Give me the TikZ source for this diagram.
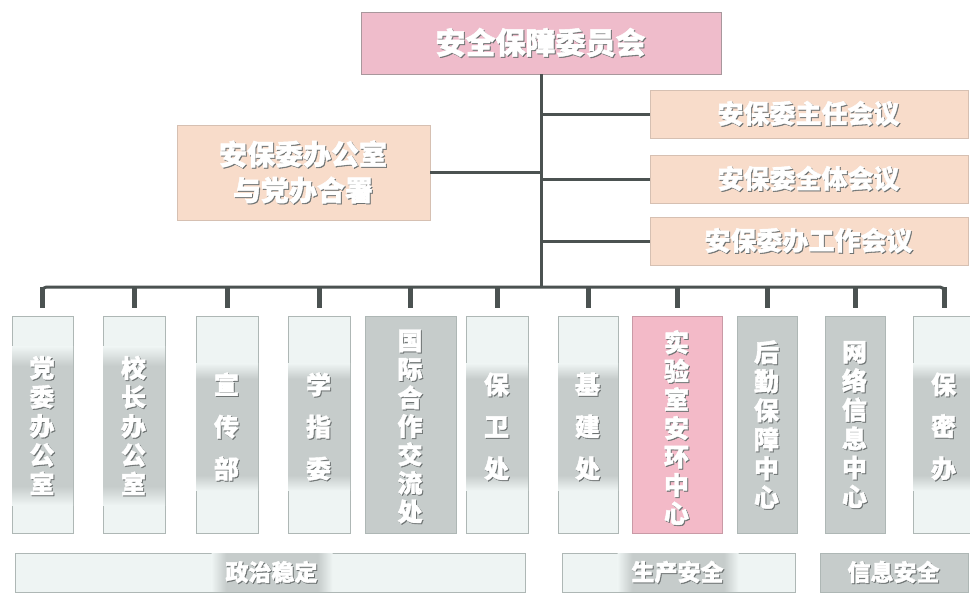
\documentclass[tikz,border=0pt]{standalone}
\usepackage{fontspec}
\newfontfamily\cjk{Noto Sans CJK SC Black}[FakeBold=1.6]
\definecolor{toppink}{HTML}{EFBCCB}
\definecolor{topline}{HTML}{A8979C}
\definecolor{peach}{HTML}{F8DCCA}
\definecolor{peachline}{HTML}{D6C0B2}
\definecolor{lightc}{HTML}{EEF4F3}
\definecolor{bandc}{HTML}{C6CCCB}
\definecolor{darkc}{HTML}{C6CCCB}
\definecolor{colline}{HTML}{AEB7B5}
\definecolor{colpink}{HTML}{F3BAC8}
\definecolor{pinkline}{HTML}{C99AA6}
\definecolor{linec}{HTML}{4B5251}
\definecolor{shadowc}{HTML}{6E7373}
\pgfdeclareverticalshading{bandsh}{100bp}{color(0bp)=(lightc); color(25bp)=(lightc); color(31bp)=(bandc); color(69bp)=(bandc); color(75bp)=(lightc); color(100bp)=(lightc)}
\pgfdeclarehorizontalshading{hbandsh}{100bp}{color(0bp)=(lightc); color(25bp)=(lightc); color(31bp)=(bandc); color(69bp)=(bandc); color(75bp)=(lightc); color(100bp)=(lightc)}
\makeatletter
\newcommand\sh[1]{\ooalign{\hspace{1pt}\raisebox{-1pt}{\color{shadowc}#1}\cr{\color{white}#1}\cr}}
\newcommand\vstack[2]{\vbox{\baselineskip=#1\lineskiplimit=-\maxdimen\lineskip=0pt\@tfor\vs@c:=#2\do{\hbox to 1.3em{\hss\sh{\vs@c}\hss}}}}
\makeatother
\tikzset{
  topbox/.style={draw=topline, fill=toppink, line width=0.6pt, minimum width=360pt, minimum height=62pt, inner sep=0pt, font=\cjk\fontsize{30}{34}\selectfont},
  meetbox/.style={draw=peachline, fill=peach, line width=0.6pt, minimum width=318pt, minimum height=48pt, inner sep=0pt, font=\cjk\fontsize{26}{30}\selectfont},
  officebox/.style={draw=peachline, fill=peach, line width=0.6pt, minimum width=253pt, minimum height=95pt, inner sep=0pt, align=center, font=\cjk\fontsize{28}{36}\selectfont},
  colbox/.style={draw=colline, fill=lightc, line width=0.6pt, minimum height=217pt, inner sep=0pt},
  darkbox/.style={colbox, fill=darkc},
  pinkbox/.style={colbox, draw=pinkline, fill=colpink},
  band/.style={shading=bandsh, inner xsep=0pt, inner ysep=10pt, font=\cjk\fontsize{25}{28}\selectfont},
  plaintext/.style={inner sep=0pt, font=\cjk\fontsize{25}{28}\selectfont},
  botbox/.style={draw=colline, fill=lightc, line width=0.6pt, minimum height=39pt, inner sep=0pt},
  hband/.style={shading=hbandsh, inner xsep=14pt, inner ysep=0pt, minimum height=38pt, font=\cjk\fontsize{23}{26}\selectfont},
  busline/.style={draw=linec, line width=3pt},
  stub/.style={draw=linec, line width=5pt},
}
\begin{document}
\begin{tikzpicture}[x=1pt,y=-1pt]
\useasboundingbox[fill=white] (0,0) rectangle (970,600);
% top
\node[topbox] (top) at (541,43) {\sh{安全保障委员会}};
\coordinate (busc) at (541,287);
% meetings
\node[meetbox] (m1) at (809,114) {\sh{安保委主任会议}};
\node[meetbox] (m2) at (809,179) {\sh{安保委全体会议}};
\node[meetbox] (m3) at (809,241) {\sh{安保委办工作会议}};
\node[officebox] (off) at (303.5,172.5) {\sh{安保委办公室}\\\sh{与党办合署}};
% columns
\node[colbox, minimum width=61pt] (c1) at (42.5,424.5) {};
\node[band, minimum width=61pt] (t1) at (42.5,426) {\vstack{29pt}{党委办公室}};
\node[colbox, minimum width=62pt] (c2) at (134,424.5) {};
\node[band, minimum width=62pt] (t2) at (134,426) {\vstack{29pt}{校长办公室}};
\node[colbox, minimum width=62pt] (c3) at (227,424.5) {};
\node[band, minimum width=62pt] (t3) at (227,427) {\vstack{42pt}{宣传部}};
\node[colbox, minimum width=62pt] (c4) at (319,424.5) {};
\node[band, minimum width=62pt] (t4) at (319,427) {\vstack{42pt}{学指委}};
\node[darkbox, minimum width=91pt] (c5) at (410.5,424.5) {};
\node[plaintext] (t5) at (410.5,427) {\vstack{28.5pt}{国际合作交流处}};
\node[colbox, minimum width=62pt] (c6) at (497,424.5) {};
\node[band, minimum width=62pt] (t6) at (497,427) {\vstack{42pt}{保卫处}};
\node[colbox, minimum width=60pt] (c7) at (588,424.5) {};
\node[band, minimum width=60pt] (t7) at (588,427) {\vstack{42pt}{基建处}};
\node[pinkbox, minimum width=90pt] (c8) at (677,424.5) {};
\node[plaintext] (t8) at (677,428) {\vstack{28.5pt}{实验室安环中心}};
\node[darkbox, minimum width=60pt] (c9) at (767,424.5) {};
\node[plaintext] (t9) at (767,425) {\vstack{29pt}{后勤保障中心}};
\node[darkbox, minimum width=60pt] (c10) at (855,424.5) {};
\node[plaintext] (t10) at (855,425) {\vstack{29pt}{网络信息中心}};
\node[colbox, minimum width=62pt] (c11) at (944,424.5) {};
\node[band, minimum width=62pt] (t11) at (944,427) {\vstack{42pt}{保密办}};
% bottom groups
\node[botbox, minimum width=510pt] (g1) at (270,572.5) {};
\node[hband] (g1t) at (272,572.5) {\sh{政治稳定}};
\node[botbox, minimum width=233pt] (g2) at (678.5,572.5) {};
\node[hband] (g2t) at (678,572.5) {\sh{生产安全}};
\node[botbox, fill=darkc, minimum width=148pt] (g3) at (894,572.5) {\cjk\fontsize{23}{26}\selectfont\sh{信息安全}};
% connectors
\draw[busline] (top.south) -- (busc);
\draw[busline] (top.south |- m1.west) -- (m1.west);
\draw[busline] (top.south |- m2.west) -- (m2.west);
\draw[busline] (top.south |- m3.west) -- (m3.west);
\draw[busline] (off.east) -- (top.south |- off.east);
\draw[busline, rounded corners=4pt] ([yshift=8pt]c1.north) |- (busc) -| ([yshift=8pt]c11.north);
\foreach \c in {c1,c2,c3,c4,c5,c6,c7,c8,c9,c10,c11}
  \draw[stub] (\c.north |- busc) -- ([yshift=8pt]\c.north);
\end{tikzpicture}
\end{document}
